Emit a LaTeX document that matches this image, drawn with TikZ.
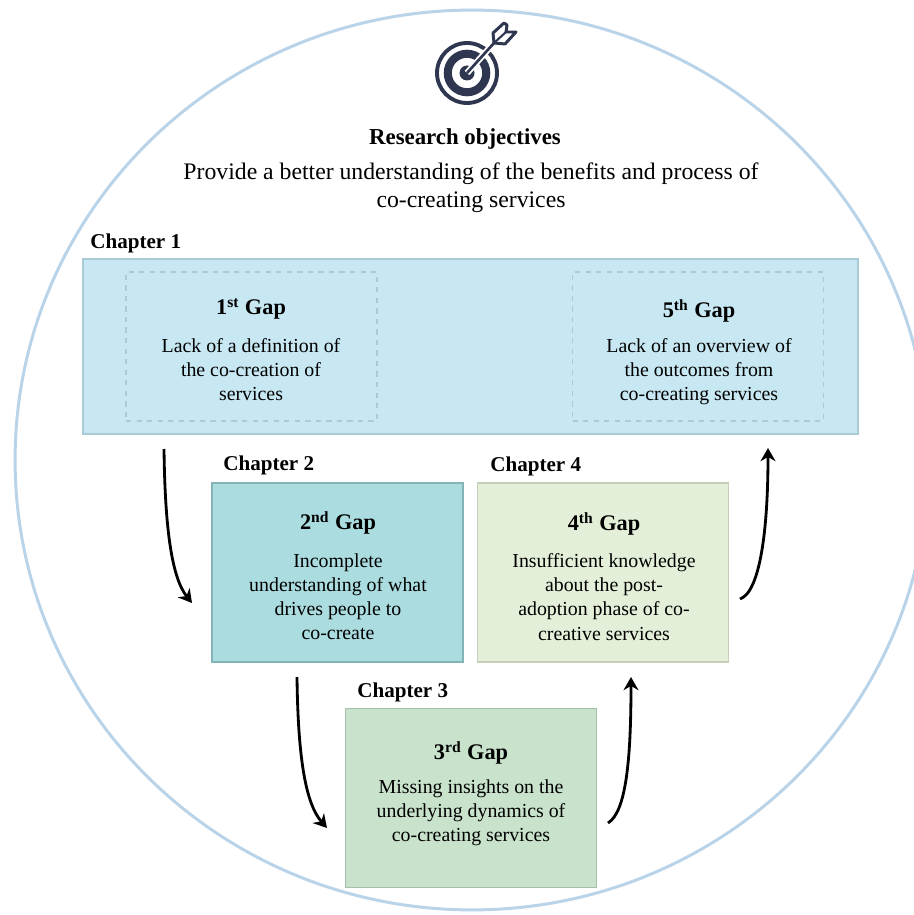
\documentclass[tikz,border=0pt]{standalone}
\usepackage{fontspec}
\setmainfont{Liberation Serif}
\usetikzlibrary{arrows.meta}
\definecolor{ringblue}{HTML}{B9D3E9}
\definecolor{iconink}{HTML}{2E3650}
\definecolor{chapone}{HTML}{C7E8F3}
\definecolor{chaponeline}{HTML}{A9CBD6}
\definecolor{chaptwo}{HTML}{ABDCDF}
\definecolor{chaptwoline}{HTML}{84B4B7}
\definecolor{chapthree}{HTML}{C8E2CB}
\definecolor{chapthreeline}{HTML}{A5C0A8}
\definecolor{chapfour}{HTML}{E4EFD9}
\definecolor{chapfourline}{HTML}{C5CFB9}
\tikzset{
  gapbox/.style={draw,line width=1pt,minimum width=5.02cm,minimum height=3.58cm,inner sep=0pt},
  dashbox/.style={draw=chaponeline,dashed,line width=.8pt,minimum width=5.02cm,minimum height=2.98cm,inner sep=0pt},
  chaplabel/.style={anchor=west,inner sep=0pt,font=\fontsize{12}{14}\selectfont\bfseries},
  gaptitle/.style={inner sep=0pt,font=\fontsize{12.7}{15}\selectfont\bfseries},
  gapbody/.style={inner sep=0pt,align=center,font=\fontsize{11.3}{13.7}\selectfont},
  flow/.style={line width=1.6pt,-{Stealth[length=7.5pt,width=8.5pt]}},
}
\begin{document}
\begin{tikzpicture}[x=.02cm,y=-.02cm]
    \useasboundingbox (0,0) rectangle (913,915);
    \draw[ringblue,line width=1.7pt] (472,460) ellipse (9.14cm and 9cm);

    % target icon
    \draw[iconink,line width=2.2pt] (467,73) circle (.6cm);
    \draw[iconink,line width=4.6pt] (467,73) circle (.385cm);
    \fill[iconink] (467,73) circle (.15cm);
    \draw[white,line width=3.6pt] (467,73) -- (494,43);
    \draw[iconink,line width=1.5pt] (467,73) -- (494,43);
    \draw[iconink,line width=1.7pt,line join=round] (494,43) -- (493,33) -- (504,23) -- (507,25) -- (506,32) -- (516,32) -- (505,44) -- cycle;
    \draw[iconink,line width=1.2pt] (494,43) -- (506,32);

    \node[inner sep=0pt,font=\fontsize{13}{15}\selectfont\bfseries] (objectives) at (465,139) {Research objectives};
    \node[inner sep=0pt,align=center,font=\fontsize{13.5}{16}\selectfont] (aim) at (471,188) {Provide a better understanding of the benefits and process of\\co-creating services};

    % chapter boxes
    \node[gapbox,fill=chapone,draw=chaponeline,minimum width=15.5cm,minimum height=3.5cm] (chapOne) at (470.5,346.5) {};
    \node[dashbox] (gapOne) at (251.5,346.5) {};
    \node[dashbox] (gapFive) at (698,346.5) {};
    \node[gapbox,fill=chaptwo,draw=chaptwoline] (chapTwo) at (337.5,572.5) {};
    \node[gapbox,fill=chapfour,draw=chapfourline] (chapFour) at (603,572.5) {};
    \node[gapbox,fill=chapthree,draw=chapthreeline] (chapThree) at (471,798) {};

    \node[chaplabel] (labelOne) at (90,243) {Chapter 1};
    \node[chaplabel] (labelTwo) at (223,465) {Chapter 2};
    \node[chaplabel] (labelThree) at (357,692) {Chapter 3};
    \node[chaplabel] (labelFour) at (490,466) {Chapter 4};

    \node[gaptitle] (titleOne) at (251,309) {1\textsuperscript{st} Gap};
    \node[gapbody] (bodyOne) at (251,370) {Lack of a definition of\\the co-creation of\\services};
    \node[gaptitle] (titleFive) at (699,311) {5\textsuperscript{th} Gap};
    \node[gapbody] (bodyFive) at (699,372) {Lack of an overview of\\the outcomes from\\co-creating services};
    \node[gaptitle] (titleTwo) at (338,523) {2\textsuperscript{nd} Gap};
    \node[gapbody] (bodyTwo) at (338,597) {Incomplete\\understanding of what\\drives people to\\co-create};
    \node[gaptitle] (titleFour) at (604,524) {4\textsuperscript{th} Gap};
    \node[gapbody] (bodyFour) at (604,597) {Insufficient knowledge\\about the post-\\adoption phase of co-\\creative services};
    \node[gaptitle] (titleThree) at (471,753) {3\textsuperscript{rd} Gap};
    \node[gapbody] (bodyThree) at (471,813) {Missing insights on the\\underlying dynamics of\\co-creating services};

    % arrows between the chapters
    \coordinate (startOne) at (164,449);
    \coordinate (endOne) at (192,603);
    \coordinate (startTwo) at (297,677);
    \coordinate (endTwo) at (327,828);
    \coordinate (startThree) at (608,823);
    \coordinate (endThree) at (631,677);
    \coordinate (startFour) at (740,599);
    \coordinate (endFour) at (768,448);
    \draw[flow] (startOne) .. controls (165,530) and (172,578) .. (endOne);
    \draw[flow] (startTwo) .. controls (298,760) and (306,804) .. (endTwo);
    \draw[flow] (startThree) .. controls (626,812) and (631,760) .. (endThree);
    \draw[flow] (startFour) .. controls (760,592) and (768,530) .. (endFour);
\end{tikzpicture}
\end{document}
